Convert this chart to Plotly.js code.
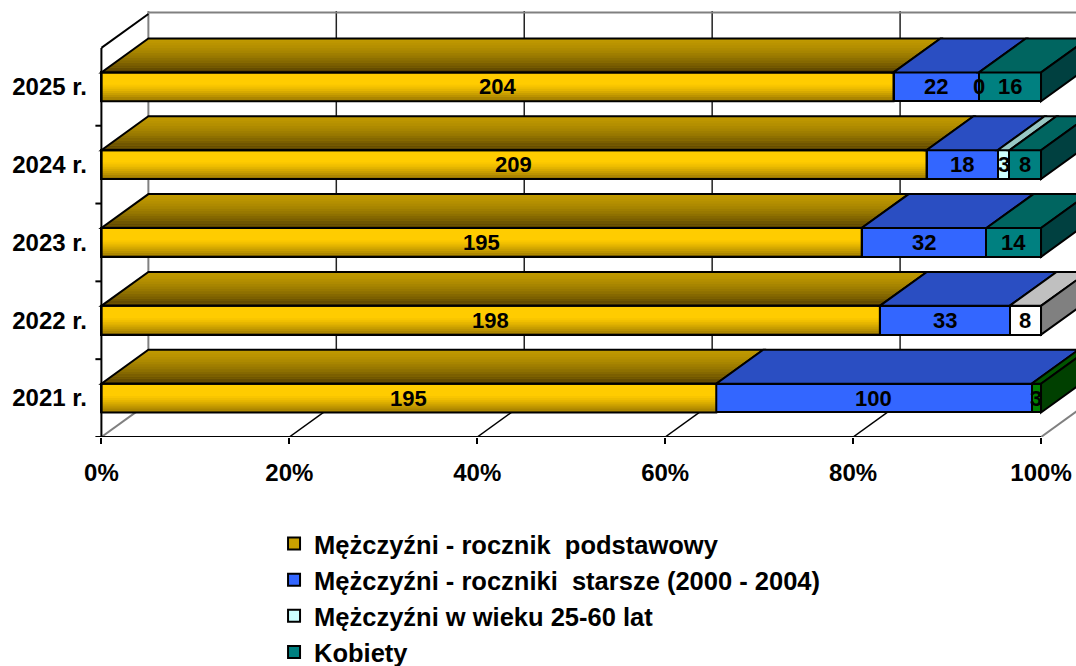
<!DOCTYPE html>
<html>
<head>
<meta charset="utf-8">
<script src="https://cdn.plot.ly/plotly-3.0.1.min.js"></script>
<style>html,body{margin:0;padding:0;background:#fff;}#chart{width:1076px;height:666px;}</style>
</head>
<body>
<div id="chart"></div>
<script>
// ---- data ----
const categories = ['2025 r.', '2024 r.', '2023 r.', '2022 r.', '2021 r.'];
const podstawowy = [204, 209, 195, 198, 195];
const starsze = [22, 18, 32, 33, 100];
const wiek2560 = [0, 3, null, 8, null];
const kobiety = [16, 8, 14, null, 3];
const seriesNames = [
  'Mężczyźni - rocznik  podstawowy',
  'Mężczyźni - roczniki  starsze (2000 - 2004)',
  'Mężczyźni w wieku 25-60 lat',
  'Kobiety'
];
const xTicks = [0, 20, 40, 60, 80, 100];

// ---- styles ----
const series = [podstawowy, starsze, wiek2560, kobiety];
const frontColors = [
  ['#FFCC00', '#FFCC00', '#FFCC00', '#FFCC00', '#FFCC00'],
  ['#3366FF', '#3366FF', '#3366FF', '#3366FF', '#3366FF'],
  ['#CCFFFF', '#CCFFFF', '#CCFFFF', '#FFFFFF', '#CCFFFF'],
  ['#008080', '#008080', '#008080', '#008080', '#008000']
];
const topColors = [
  ['#C09A00', '#C09A00', '#C09A00', '#C09A00', '#C09A00'],
  ['#2A4EC2', '#2A4EC2', '#2A4EC2', '#2A4EC2', '#2A4EC2'],
  ['#99C8C4', '#99C8C4', '#99C8C4', '#C0C0C0', '#99C8C4'],
  ['#006560', '#006560', '#006560', '#006560', '#005500']
];
const sideColors = [
  ['#806600', '#806600', '#806600', '#806600', '#806600'],
  ['#1F3A90', '#1F3A90', '#1F3A90', '#1F3A90', '#1F3A90'],
  ['#669999', '#669999', '#669999', '#808080', '#669999'],
  ['#004040', '#004040', '#004040', '#004040', '#004000']
];
const W = 0.37, H = W / 2, DX = 5, DY = 0.436;
const yTop = 4.5 + DY + 0.038;
const FONT = '"Liberation Sans", Arial, sans-serif';

const yPos = categories.map((_, i) => categories.length - 1 - i);

const traces = series.map((vals, k) => ({
  type: 'bar', orientation: 'h', name: seriesNames[k],
  y: yPos, x: vals, width: W,
  marker: { color: k === 0 ? '#C8A000' : frontColors[k], line: { color: '#000', width: 2 } },
  textposition: 'none', hoverinfo: 'skip'
}));

function path(pts) {
  return 'M' + pts.map(p => p[0] + ',' + p[1]).join('L') + 'Z';
}
const shapesBelow = [], shapesAbove = [], annotations = [];

// back wall grid & floor
xTicks.forEach(t => {
  const edge = (t === 0 || t === 100);
  shapesBelow.push({ type: 'line', xref: 'x', yref: 'y', layer: 'below',
    x0: t + DX, x1: t + DX, y0: -0.5 + DY, y1: yTop,
    line: { color: t === 0 ? '#808080' : '#222', width: t === 0 ? 2 : 1.5 } });
  shapesBelow.push({ type: 'line', xref: 'x', yref: 'y', layer: 'below',
    x0: t, x1: t + DX, y0: -0.5, y1: -0.5 + DY,
    line: { color: edge ? '#808080' : '#000', width: edge ? 2 : 1.5 } });
});
shapesBelow.push({ type: 'line', xref: 'x', yref: 'y', layer: 'below',
  x0: DX, x1: 110, y0: yTop - 0.02, y1: yTop - 0.02, line: { color: '#808080', width: 2 } });
shapesBelow.push({ type: 'line', xref: 'x', yref: 'y', layer: 'below',
  x0: 0, x1: DX, y0: 4.5, y1: 4.5 + DY, line: { color: '#000', width: 2 } });

// bars 3D faces
categories.forEach((cat, i) => {
  const total = series.reduce((s, v) => s + (v[i] == null ? 0 : v[i]), 0);
  const c = yPos[i];
  let acc = 0, last = null;
  series.forEach((vals, k) => {
    const v = vals[i];
    if (v == null) return;
    const x0 = acc / total * 100;
    acc += v;
    const x1 = acc / total * 100;
    annotations.push({ x: (x0 + x1) / 2, y: c, xref: 'x', yref: 'y', text: String(v),
      showarrow: false, font: { family: FONT, size: 22, color: '#000', weight: 'bold' } });
    if (x1 <= x0) return;
    last = { k, x0, x1 };
    const top = [[x0, c + H], [x1, c + H], [x1 + DX, c + H + DY], [x0 + DX, c + H + DY]];
    shapesAbove.push({ type: 'path', xref: 'x', yref: 'y', layer: 'above', path: path(top),
      fillcolor: topColors[k][i], line: { width: 0 } });
    if (k === 0) {
      const N = 14;
      shapesAbove.push({ type: 'rect', xref: 'x', yref: 'y', layer: 'above',
        x0: x0, x1: x1, y0: c - H, y1: c + H, fillcolor: frontColors[k][i], line: { width: 0 } });
      for (let b = 0; b < N; b++) {
        const t0 = b / N, t1 = (b + 1) / N, tm = (t0 + t1) / 2;
        const a = 0.72 * Math.pow(1 - tm, 1.6);
        const ya = c + H + DY * t0, yb = c + H + DY * t1;
        shapesAbove.push({ type: 'path', xref: 'x', yref: 'y', layer: 'above',
          path: path([[x0 + DX * t0, ya], [x1 + DX * t0, ya], [x1 + DX * t1, yb], [x0 + DX * t1, yb]]),
          fillcolor: 'rgba(40,25,0,' + a.toFixed(3) + ')', line: { width: 0 } });
      }
      for (let b = 0; b < N; b++) {
        const t0 = b / N, t1 = (b + 1) / N, tm = (t0 + t1) / 2;
        const d = Math.max(0, (0.6 - tm) / 0.6);
        const a = 0.55 * Math.pow(d, 1.3);
        if (a <= 0) continue;
        shapesAbove.push({ type: 'rect', xref: 'x', yref: 'y', layer: 'above',
          x0: x0, x1: x1, y0: c - H + W * t0, y1: c - H + W * t1,
          fillcolor: 'rgba(60,40,0,' + a.toFixed(3) + ')', line: { width: 0 } });
      }
      shapesAbove.push({ type: 'rect', xref: 'x', yref: 'y', layer: 'above',
        x0: x0, x1: x1, y0: c - H, y1: c + H, line: { color: '#000', width: 2 } });
    }
    shapesAbove.push({ type: 'path', xref: 'x', yref: 'y', layer: 'above', path: path(top),
      line: { color: '#000', width: 2 } });
  });
  if (last) {
    const x1 = last.x1;
    shapesAbove.push({ type: 'path', xref: 'x', yref: 'y', layer: 'above',
      path: path([[x1, c - H], [x1 + DX, c - H + DY], [x1 + DX, c + H + DY], [x1, c + H]]),
      fillcolor: sideColors[last.k][i], line: { color: '#000', width: 2 } });
  }
});

// axes lines and category boundary ticks
shapesAbove.push({ type: 'line', xref: 'x', yref: 'y', layer: 'above',
  x0: 0, x1: 100, y0: -0.5, y1: -0.5, line: { color: '#000', width: 2 } });
shapesAbove.push({ type: 'line', xref: 'x', yref: 'y', layer: 'above',
  x0: 0, x1: 0, y0: -0.5, y1: 4.5, line: { color: '#000', width: 2 } });
for (let b = 0; b < categories.length; b++) {
  shapesAbove.push({ type: 'line', xref: 'x', yref: 'y', layer: 'above',
    xsizemode: 'pixel', xanchor: 0, x0: -6, x1: 0, y0: b - 0.5, y1: b - 0.5,
    line: { color: '#000', width: 2 } });
}

const layout = {
  width: 1076, height: 666,
  margin: { l: 92, r: 0, t: 11, b: 229, autoexpand: false },
  paper_bgcolor: '#fff', plot_bgcolor: '#fff',
  font: { family: FONT, color: '#000' },
  barmode: 'stack', barnorm: 'percent',
  showlegend: true,
  xaxis: {
    range: [-1, 103.72], tickvals: xTicks, ticktext: xTicks.map(t => t + '%'),
    ticks: 'outside', ticklen: 6, tickwidth: 2, tickcolor: '#000',
    ticklabelstandoff: 8, automargin: false,
    showgrid: false, zeroline: false, showline: false,
    tickfont: { family: FONT, size: 24, color: '#000', weight: 'bold' }
  },
  yaxis: {
    range: [-0.5, yTop], tickvals: yPos, ticktext: categories,
    ticks: '', showgrid: false, zeroline: false, showline: false,
    ticklabelstandoff: 4, automargin: false,
    tickfont: { family: FONT, size: 24, color: '#000', weight: 'bold' }
  },
  legend: {
    x: 0.185, y: -0.196, xanchor: 'left', yanchor: 'top',
    orientation: 'v', traceorder: 'normal',
    font: { family: FONT, size: 25.5, color: '#000', weight: 'bold' },
    bgcolor: 'rgba(0,0,0,0)'
  },
  shapes: shapesBelow.concat(shapesAbove),
  annotations: annotations
};

Plotly.newPlot('chart', traces, layout, { staticPlot: true, displayModeBar: false });
</script>
</body>
</html>
